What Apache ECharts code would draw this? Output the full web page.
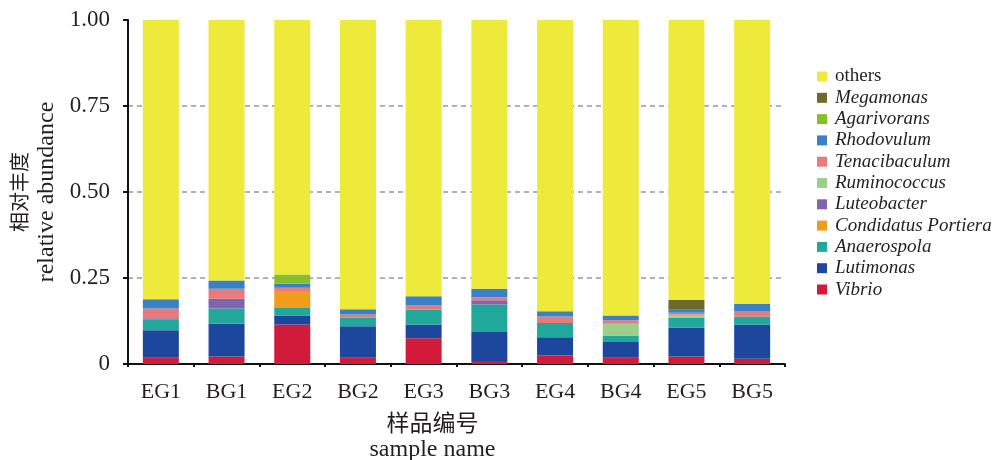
<!DOCTYPE html>
<html>
<head>
<meta charset="utf-8">
<script src="https://cdn.jsdelivr.net/npm/echarts@6/dist/echarts.min.js"></script>
<style>html,body{margin:0;padding:0;background:#fff}#c{width:1001px;height:460px}</style>
</head>
<body>
<div id="c"></div>
<script>
// ---- data ----
const categories = ['EG1','BG1','EG2','BG2','EG3','BG3','EG4','BG4','EG5','BG5'];
const Vibrio        = [0.018,0.022,0.115,0.018,0.075,0.009,0.025,0.018,0.022,0.015];
const Lutimonas     = [0.080,0.095,0.026,0.092,0.040,0.084,0.053,0.046,0.084,0.100];
const Anaerospola   = [0.032,0.044,0.022,0.025,0.043,0.080,0.041,0.019,0.029,0.023];
const Condidatus    = [0,0,0.049,0,0,0,0,0,0,0];
const Luteobacter   = [0.003,0.029,0,0,0,0.012,0,0,0,0];
const Ruminococcus  = [0,0,0,0,0,0,0,0.034,0.008,0];
const Tenacibaculum = [0.028,0.029,0.010,0.009,0.012,0.009,0.019,0.010,0.006,0.016];
const Rhodovulum    = [0.027,0.024,0.012,0.015,0.027,0.025,0.015,0.014,0.009,0.021];
const Agarivorans   = [0,0,0.026,0,0,0,0,0,0,0];
const Megamonas     = [0,0,0,0,0,0,0,0,0.028,0];
const others        = [0.812,0.757,0.740,0.841,0.803,0.781,0.847,0.859,0.814,0.825];
const yTicks = [0, 0.25, 0.5, 0.75, 1.0];

const seriesDefs = [
  ['Vibrio', Vibrio, '#d21a3b', true],
  ['Lutimonas', Lutimonas, '#1d479d', true],
  ['Anaerospola', Anaerospola, '#22a79b', true],
  ['Condidatus Portiera', Condidatus, '#f29c1c', true],
  ['Luteobacter', Luteobacter, '#7e66ae', true],
  ['Ruminococcus', Ruminococcus, '#9ccf8c', true],
  ['Tenacibaculum', Tenacibaculum, '#e77b7b', true],
  ['Rhodovulum', Rhodovulum, '#3a80c8', true],
  ['Agarivorans', Agarivorans, '#86bf2b', true],
  ['Megamonas', Megamonas, '#6e6a2a', true],
  ['others', others, '#eeea3b', false]
];

const SERIF = '"Liberation Serif","Times New Roman","Noto Sans CJK SC",serif';
const CJK = '"Noto Sans CJK SC","Liberation Serif",sans-serif';
const chart = echarts.init(document.getElementById('c'), null, {renderer:'canvas'});

const series = seriesDefs.map(d => ({
  name: d[0], type: 'bar', stack: 'all', data: d[1], barWidth: 36,
  itemStyle: {color: d[2]}, emphasis: {disabled: true}
}));
const italicSet = {};
seriesDefs.forEach(d => italicSet[d[0]] = d[3]);

chart.setOption({
  animation: false,
  grid: {left: 128, right: 216, top: 20, bottom: 96, outerBoundsMode: 'none', containLabel: false},
  legend: {
    orient: 'vertical', left: 812, top: 62,
    itemWidth: 10, itemHeight: 10, itemGap: 2.3, icon: 'rect',
    data: seriesDefs.map(d => d[0]).reverse(),
    formatter: n => italicSet[n] ? '{i|' + n + '}' : '{n|' + n + '}',
    textStyle: {
      fontFamily: SERIF, fontSize: 19, lineHeight: 18, color: '#231f20', padding: [0,0,0,3],
      rich: {
        i: {fontFamily: SERIF, fontSize: 19, lineHeight: 18, fontStyle: 'italic', color: '#231f20'},
        n: {fontFamily: SERIF, fontSize: 19, lineHeight: 18, color: '#231f20'}
      }
    }
  },
  xAxis: {
    type: 'category', data: categories, boundaryGap: true,
    name: '{c|样品编号}\n{e|sample name}', nameLocation: 'middle', nameGap: 44,
    nameTextStyle: {fontFamily: SERIF, color: '#231f20', padding: [0,48,0,0],
      rich: {
        c: {fontFamily: CJK, fontSize: 23, lineHeight: 28, color: '#231f20'},
        e: {fontFamily: SERIF, fontSize: 24, lineHeight: 28, color: '#231f20'}
      }},
    axisLine: {lineStyle: {color: '#111', width: 2}},
    axisTick: {show: true, length: 3, lineStyle: {color: '#111', width: 2}},
    axisLabel: {fontFamily: SERIF, fontSize: 22, color: '#231f20', margin: 17}
  },
  yAxis: {
    type: 'value', min: 0, max: 1, interval: 0.25,
    name: '{c|相对丰度}\n{e|relative abundance}', nameLocation: 'middle', nameRotate: 90, nameGap: 63,
    nameTextStyle: {fontFamily: SERIF, color: '#231f20',
      rich: {
        c: {fontFamily: CJK, fontSize: 20, lineHeight: 27, color: '#231f20'},
        e: {fontFamily: SERIF, fontSize: 24, lineHeight: 27, color: '#231f20'}
      }},
    axisLine: {show: true, lineStyle: {color: '#111', width: 2}},
    axisTick: {show: true, length: 5, lineStyle: {color: '#111', width: 2}},
    axisLabel: {fontFamily: SERIF, fontSize: 23, color: '#231f20', margin: 18,
      formatter: v => (v === 0 ? '0' : v.toFixed(2))},
    splitLine: {show: true, lineStyle: {type: [5,4], width: 1.5,
      color: yTicks.map(t => (t > 0 && t < 1) ? '#999999' : 'rgba(0,0,0,0)')}}
  },
  series: series
});
</script>
</body>
</html>
